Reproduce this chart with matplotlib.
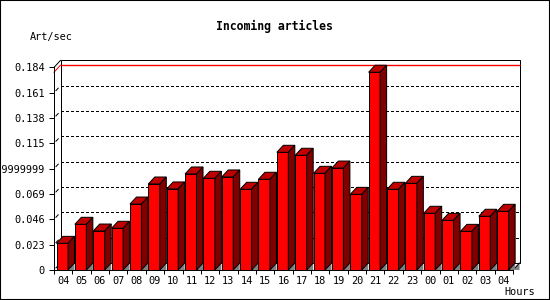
import numpy as np
import matplotlib.pyplot as plt
from matplotlib.patches import Polygon, Rectangle

plt.rcParams['font.family'] = ['DejaVu Sans Mono']

hours = ['04', '05', '06', '07', '08', '09', '10', '11', '12', '13', '14', '15', '16',
         '17', '18', '19', '20', '21', '22', '23', '00', '01', '02', '03', '04']
rates = [0.0242, 0.0415, 0.0354, 0.0379, 0.0599, 0.0781, 0.0736, 0.0872, 0.0833,
         0.0845, 0.0733, 0.0824, 0.1069, 0.1042, 0.0878, 0.0926, 0.0687, 0.1796,
         0.0733, 0.0787, 0.0515, 0.0451, 0.0351, 0.0488, 0.0533]
ytick_vals = [0, 0.023, 0.046, 0.069, 0.092, 0.115, 0.138, 0.161, 0.184]
ytick_labels = ['0', '0.023', '0.046', '0.069', '0.0919999999999999',
                '0.115', '0.138', '0.161', '0.184']

W, H, DPI = 550, 300, 100
LW = 0.72  # one pixel

fig = plt.figure(figsize=(W / DPI, H / DPI), dpi=DPI)
ax_w, ax_h = 459.0, 202.6
ax = fig.add_axes([54 / W, 30 / H, ax_w / W, ax_h / H])
n = len(hours)
ymax = ytick_vals[-1]
ax.set_xlim(0, n)
ax.set_ylim(0, ymax)

# size of one pixel in data units -> depth of the 3d look
px_x = n / ax_w
px_y = ymax / ax_h
dx, dy = 6.5 * px_x, 7 * px_y

# back wall
ax.add_patch(Rectangle((dx, dy), n, ymax, fc='white', ec='black', lw=LW,
                       clip_on=False, zorder=0.5))
for v in ytick_vals[1:-1]:
    ax.plot([dx, n + dx], [v + dy, v + dy], color='black', lw=0.5,
            ls=(0, (3, 4)), antialiased=False, clip_on=False, zorder=0.6)
for v in ytick_vals[:-1]:
    ax.plot([0.3 * dx, 0.65 * dx], [v + 0.3 * dy, v + 0.65 * dy], color='black',
            lw=LW, clip_on=False, zorder=0.6)
ax.plot([0, dx], [ymax, ymax + dy], color='black', lw=LW, clip_on=False, zorder=0.6)

# max line
vmax = max(rates)
ax.plot([0, dx], [vmax, vmax + dy], color='red', lw=LW, clip_on=False, zorder=0.7)
ax.plot([dx, n + dx], [vmax + dy, vmax + dy], color='#ff0000', lw=1.0,
        solid_capstyle='butt', clip_on=False, zorder=0.7)

# floor at right end
ax.add_patch(Polygon([(n, 0), (n + dx, dy), (n + dx, 0)], fc='#808080', ec='none',
                     clip_on=False, zorder=1))
ax.plot([n, n + dx], [0, dy], color='black', lw=LW, clip_on=False, zorder=1.1)

# bars
bw = 11.5 * px_x
for i, v in enumerate(rates):
    x0 = i + 2.5 * px_x
    ax.add_patch(Polygon([(x0 + bw, 0), (x0 + bw + dx, dy), (x0 + bw + dx, 0)],
                         fc='#808080', ec='none', clip_on=False, zorder=2))
    ax.add_patch(Rectangle((x0, 0), bw, v, fc='#ff0000', ec='black', lw=LW,
                           clip_on=False, zorder=3))
    ax.add_patch(Polygon([(x0, v), (x0 + dx, v + dy), (x0 + bw + dx, v + dy), (x0 + bw, v)],
                         fc='#c00000', ec='black', lw=LW, clip_on=False, zorder=3))
    ax.add_patch(Polygon([(x0 + bw, 0), (x0 + bw, v), (x0 + bw + dx, v + dy), (x0 + bw + dx, dy)],
                         fc='#800000', ec='black', lw=LW, clip_on=False, zorder=3))

# axes
for s in ['top', 'right']:
    ax.spines[s].set_visible(False)
for s in ['left', 'bottom']:
    ax.spines[s].set_linewidth(LW)
    ax.spines[s].set_zorder(4)
ax.patch.set_visible(False)

ax.set_yticks(ytick_vals, ytick_labels)
ax.tick_params(axis='y', length=3.6, width=LW, pad=3, labelsize=7.4)
ax.set_xticks(np.arange(n + 1), [''] * (n + 1))
ax.set_xticks(np.arange(n) + 0.5, hours, minor=True)
ax.tick_params(axis='x', which='major', length=2.9, width=LW)
ax.tick_params(axis='x', which='minor', length=0, pad=4, labelsize=7.4)

fig.text(274 / W, 1 - 26.7 / H, 'Incoming articles', ha='center', va='center',
         fontsize=8.3, fontweight='bold')
fig.text(30 / W, 1 - 36.7 / H, 'Art/sec', ha='left', va='center', fontsize=7.4)
fig.text(504 / W, 1 - 291.7 / H, 'Hours', ha='left', va='center', fontsize=7.4)

fig.add_artist(Rectangle((0, 0), 1, 1, transform=fig.transFigure, fill=False,
                         ec='black', lw=1.5))

fig.savefig('out.png', dpi=DPI)
